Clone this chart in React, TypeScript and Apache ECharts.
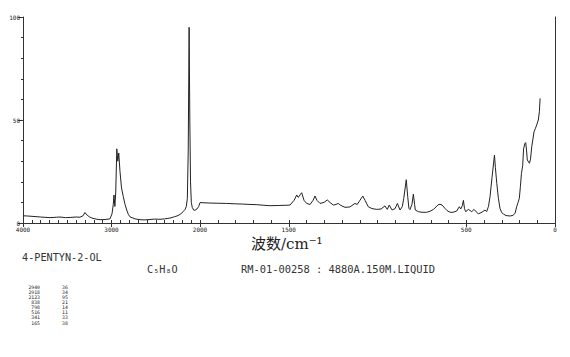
import React, { useEffect, useRef } from 'react';
import * as echarts from 'echarts';

// Raman shift (cm-1) and intensity, 4000-2000 region (compressed scale)
const highShift = [4000, 3950, 3887, 3800, 3695, 3620, 3582, 3520, 3469, 3400, 3356, 3322, 3300, 3275, 3250, 3220, 3164, 3120, 3073, 3017, 2994, 2980, 2972, 2962, 2952, 2940, 2929, 2918, 2904, 2887, 2867, 2847, 2828, 2810, 2791, 2734, 2678, 2620, 2565, 2510, 2452, 2400, 2339, 2290, 2248, 2210, 2192, 2170, 2155, 2143, 2133, 2123, 2115, 2107, 2098, 2087, 2070, 2057, 2035, 2015, 2000];
const highIntensity = [3.5, 3.4, 3.2, 2.9, 2.6, 2.8, 2.9, 2.6, 2.7, 2.9, 2.8, 3.5, 5.1, 3.8, 3.0, 2.4, 1.8, 1.6, 1.7, 2.0, 4.5, 9, 13.6, 8, 15, 36, 30, 34, 25, 17, 12.8, 9, 6.3, 4.2, 3.0, 2.0, 1.6, 1.5, 1.7, 1.9, 1.8, 2.0, 2.4, 3.0, 3.6, 4.6, 5.5, 6.5, 8, 12, 35, 95, 50, 20, 10, 7.5, 6.2, 6.2, 6.8, 8, 9.9];

// 2000-0 region (expanded scale)
const lowShift = [2000, 1950, 1900, 1850, 1800, 1760, 1718, 1680, 1640, 1606, 1560, 1520, 1493, 1470, 1455, 1448, 1442, 1434, 1427, 1414, 1399, 1380, 1363, 1352, 1341, 1324, 1301, 1283, 1268, 1249, 1234, 1221, 1206, 1183, 1155, 1127, 1114, 1099, 1083, 1070, 1052, 1031, 1004, 980, 958, 945, 934, 918, 901, 888, 873, 860, 852, 838, 830, 823, 817, 806, 798, 791, 787, 770, 749, 723, 704, 685, 670, 659, 648, 636, 620, 608, 591, 575, 554, 539, 531, 522, 516, 510, 503, 488, 469, 456, 432, 411, 394, 385, 375, 366, 355, 341, 336, 328, 319, 310, 300, 291, 276, 253, 237, 225, 216, 208, 201, 195, 189, 182, 177, 170, 165, 160, 156, 144, 138, 131, 118, 110, 103, 94, 88, 84];
const lowIntensity = [9.9, 9.7, 9.6, 9.5, 9.3, 9.2, 9.0, 8.9, 8.6, 8.4, 8.5, 8.6, 8.7, 11, 13.6, 12.5, 12.8, 14, 14.7, 11, 9.5, 9, 11, 13.1, 11, 9.5, 10, 11.2, 10, 8.7, 9, 9.5, 8.5, 7.6, 7.8, 9.5, 9.0, 11, 13.1, 11, 7.9, 7, 6.6, 6.8, 8.3, 6.6, 8.7, 6.3, 7, 9.5, 6.3, 8, 12, 21, 13, 7.1, 6.5, 9, 14, 9, 6.3, 5.5, 5.2, 5.2, 5.7, 6.6, 7.8, 8.8, 9.1, 8.7, 7.1, 6, 5.2, 5.2, 5.8, 7.9, 6.8, 8.5, 11, 7, 5.5, 6.6, 5.5, 6.6, 4.4, 5.3, 6.3, 5.5, 8, 12.8, 22, 33, 27, 19.3, 12, 7.1, 5, 4.4, 3.6, 3.4, 3.7, 4.7, 7.9, 10, 12, 17.6, 24, 28, 36, 38.5, 39, 35, 30.6, 29, 31, 37, 44.3, 46, 47.6, 50, 54, 60.5];

// Axis tick labels
const highLabels = [4000, 3000, 2000];
const lowLabels = [1500, 500, 0];
const yLabels = [0, 50, 100];

// Peak table
const peakShift = [2940, 2918, 2123, 838, 798, 516, 341, 165];
const peakIntensity = [36, 34, 95, 21, 14, 11, 33, 38];

const axisTitle = '波数/cm⁻¹';
const compoundName = '4-PENTYN-2-OL';
const formula = 'C₅H₈O';
const sampleInfo = 'RM-01-00258 : 4880A.150M.LIQUID';

const INK = '#333';
const MONO = "'DejaVu Sans Mono', monospace";

export default function App() {
  const ref = useRef<HTMLDivElement>(null);
  useEffect(() => {
    if (!ref.current) return;
    const chart = echarts.init(ref.current, undefined, { renderer: 'svg' });
    const tinyLabel = { fontSize: 6, fontFamily: MONO, color: '#222', formatter: (v: number) => String(v) };
    const hidden = { show: false };
    const lineOnly = (gridIndex: number, position: string, min: number, max: number) => ({
      type: 'value', gridIndex, position, min, max, inverse: true,
      axisLine: { show: true, lineStyle: { color: INK, width: 1 } },
      axisTick: hidden, axisLabel: hidden, splitLine: hidden,
    });
    const table: any[] = [];
    peakShift.forEach((s, i) => {
      const y = 287 + i * 5.15;
      table.push({ type: 'text', x: 40, y, style: { text: String(s), fontSize: 4.8, fontFamily: MONO, fill: '#222', textAlign: 'right', textVerticalAlign: 'middle' } });
      table.push({ type: 'text', x: 62, y, style: { text: String(peakIntensity[i]), fontSize: 4.8, fontFamily: MONO, fill: '#222', textAlign: 'left', textVerticalAlign: 'middle' } });
    });
    chart.setOption({
      animation: false,
      backgroundColor: '#fff',
      grid: [
        { left: 23, top: 17, width: 177, height: 206 },
        { left: 200, top: 17, width: 355, height: 206 },
      ],
      xAxis: [
        {
          type: 'value', gridIndex: 0, position: 'bottom', min: 2000, max: 4000, interval: 100, inverse: true,
          axisLine: { show: true, onZero: false, lineStyle: { color: INK, width: 1 } },
          axisTick: { show: true, inside: true, length: 3, lineStyle: { color: INK } },
          axisLabel: hidden, splitLine: hidden,
        },
        {
          type: 'value', gridIndex: 0, position: 'bottom', min: 2000, max: 4000, inverse: true,
          axisLine: { show: false, onZero: false },
          axisTick: { show: true, length: 4, customValues: highLabels, lineStyle: { color: INK } },
          axisLabel: { ...tinyLabel, margin: 3, customValues: highLabels, showMinLabel: true, showMaxLabel: true },
          splitLine: hidden,
        },
        lineOnly(0, 'top', 2000, 4000),
        {
          type: 'value', gridIndex: 1, position: 'bottom', min: 0, max: 2000, interval: 100, inverse: true,
          axisLine: { show: true, onZero: false, lineStyle: { color: INK, width: 1 } },
          axisTick: { show: true, inside: true, length: 3, lineStyle: { color: INK } },
          axisLabel: hidden, splitLine: hidden,
        },
        {
          type: 'value', gridIndex: 1, position: 'bottom', min: 0, max: 2000, inverse: true,
          axisLine: { show: false, onZero: false },
          axisTick: { show: true, length: 4, customValues: lowLabels, lineStyle: { color: INK } },
          axisLabel: { ...tinyLabel, margin: 3, customValues: lowLabels, showMinLabel: true, showMaxLabel: true },
          splitLine: hidden,
        },
        lineOnly(1, 'top', 0, 2000),
      ],
      yAxis: [
        {
          type: 'value', gridIndex: 0, position: 'left', min: 0, max: 100, interval: 10,
          axisLine: { show: true, onZero: false, lineStyle: { color: INK, width: 1 } },
          axisTick: { show: true, length: 2, lineStyle: { color: INK } },
          axisLabel: hidden, splitLine: hidden,
        },
        {
          type: 'value', gridIndex: 0, position: 'left', min: 0, max: 100,
          axisLine: { show: false, onZero: false },
          axisTick: { show: true, length: 5, customValues: yLabels, lineStyle: { color: INK } },
          axisLabel: { ...tinyLabel, margin: 3, customValues: yLabels, showMinLabel: true, showMaxLabel: true },
          splitLine: hidden,
        },
        {
          type: 'value', gridIndex: 1, position: 'right', min: 0, max: 100,
          axisLine: { show: true, onZero: false, lineStyle: { color: INK, width: 1 } },
          axisTick: hidden, axisLabel: hidden, splitLine: hidden,
        },
      ],
      series: [
        {
          type: 'line', xAxisIndex: 0, yAxisIndex: 0, symbol: 'none', silent: true,
          lineStyle: { color: '#222', width: 1 },
          data: highShift.map((s, i) => [s, highIntensity[i]]),
        },
        {
          type: 'line', xAxisIndex: 3, yAxisIndex: 2, symbol: 'none', silent: true,
          lineStyle: { color: '#222', width: 1 },
          data: lowShift.map((s, i) => [s, lowIntensity[i]]),
        },
      ],
      graphic: [
        { type: 'text', x: 251, y: 244, style: { text: axisTitle, fontSize: 15, fontFamily: "'DejaVu Serif', 'Noto Sans CJK SC', serif", fill: '#222', textAlign: 'left', textVerticalAlign: 'middle' } },
        { type: 'text', x: 22, y: 257, style: { text: compoundName, fontSize: 10.2, fontFamily: MONO, fill: INK, textAlign: 'left', textVerticalAlign: 'middle' } },
        { type: 'text', x: 147, y: 269, style: { text: formula, fontSize: 10.2, fontFamily: MONO, fill: INK, textAlign: 'left', textVerticalAlign: 'middle' } },
        { type: 'text', x: 241, y: 269, style: { text: sampleInfo, fontSize: 10.4, fontFamily: MONO, fill: INK, textAlign: 'left', textVerticalAlign: 'middle' } },
        ...table,
      ],
    });
    return () => chart.dispose();
  }, []);
  return <div ref={ref} style={{ position: 'fixed', left: 0, top: 0, width: 570, height: 357, background: '#fff' }} />;
}
